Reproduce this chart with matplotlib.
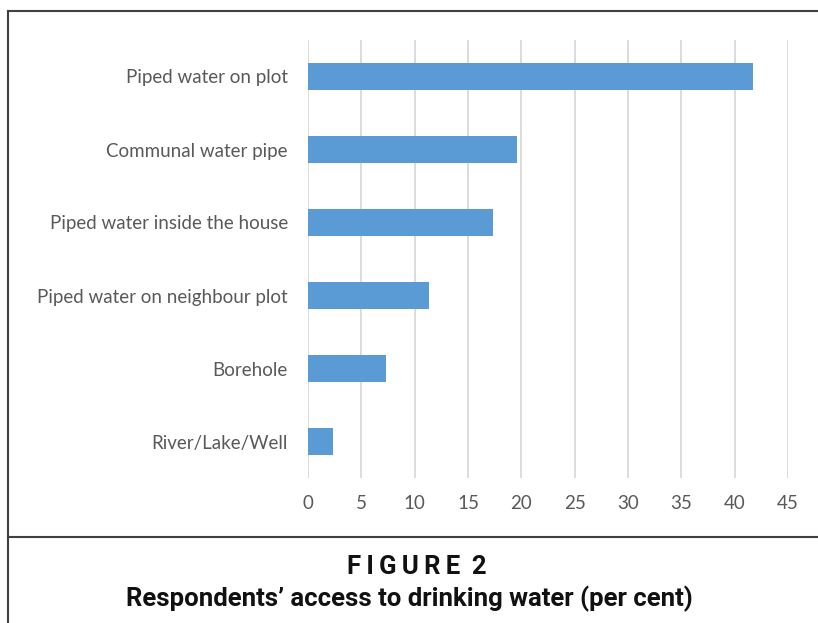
import matplotlib
matplotlib.use("Agg")
import matplotlib.pyplot as plt
from matplotlib.lines import Line2D

categories = ["Piped water on plot", "Communal water pipe", "Piped water inside the house",
              "Piped water on neighbour plot", "Borehole", "River/Lake/Well"]
values = [41.7, 19.6, 17.3, 11.3, 7.3, 2.3]
x_ticks = list(range(0, 50, 5))

W, H = 818, 623
fig = plt.figure(figsize=(W / 100, H / 100), dpi=100)
ax = fig.add_axes([308 / W, 1 - 478 / H, 480 / W, 438 / H])

ypos = list(range(len(categories)))
ax.barh(ypos, values, height=0.36, color="#5B9BD5", zorder=3)
ax.set_ylim(len(categories) - 0.5, -0.5)
ax.set_xlim(0, 45)
ax.set_xticks(x_ticks)
ax.set_yticks(ypos)
ax.set_yticklabels(categories, fontsize=13.5, color="#595959", family="Lato")
ax.set_xticklabels([str(t) for t in x_ticks], fontsize=13.5, color="#595959", family="Lato")
ax.tick_params(axis="y", length=0, pad=14.5)
ax.tick_params(axis="x", length=0, pad=12)
ax.grid(axis="x", color="#D9D9D9", linewidth=1.3, zorder=0)
for s in ax.spines.values():
    s.set_visible(False)

# frame lines around the figure and above the caption
lc = "#404040"
fig.add_artist(Line2D([7.5 / W, 7.5 / W], [0, 1 - 11 / H], color=lc, lw=1.5))
fig.add_artist(Line2D([7.5 / W, 1], [1 - 11 / H, 1 - 11 / H], color=lc, lw=1.5))
fig.add_artist(Line2D([7.5 / W, 1], [1 - 537 / H, 1 - 537 / H], color=lc, lw=1.5))

cap_font = ["Roboto", "DejaVu Sans"]
thin = "\u2009"
fig_label = thin.join("FIGURE") + thin + " 2"
fig.text(0.51, 1 - 574 / H, fig_label, ha="center", va="baseline", fontsize=18.5,
         fontweight="bold", family=cap_font, color="#111111")
fig.text(0.5, 1 - 606 / H, "Respondents\u2019 access to drinking water (per cent)",
         ha="center", va="baseline", fontsize=18.5, fontweight="bold", family=cap_font,
         color="#111111")

fig.savefig("out.png", dpi=100)
